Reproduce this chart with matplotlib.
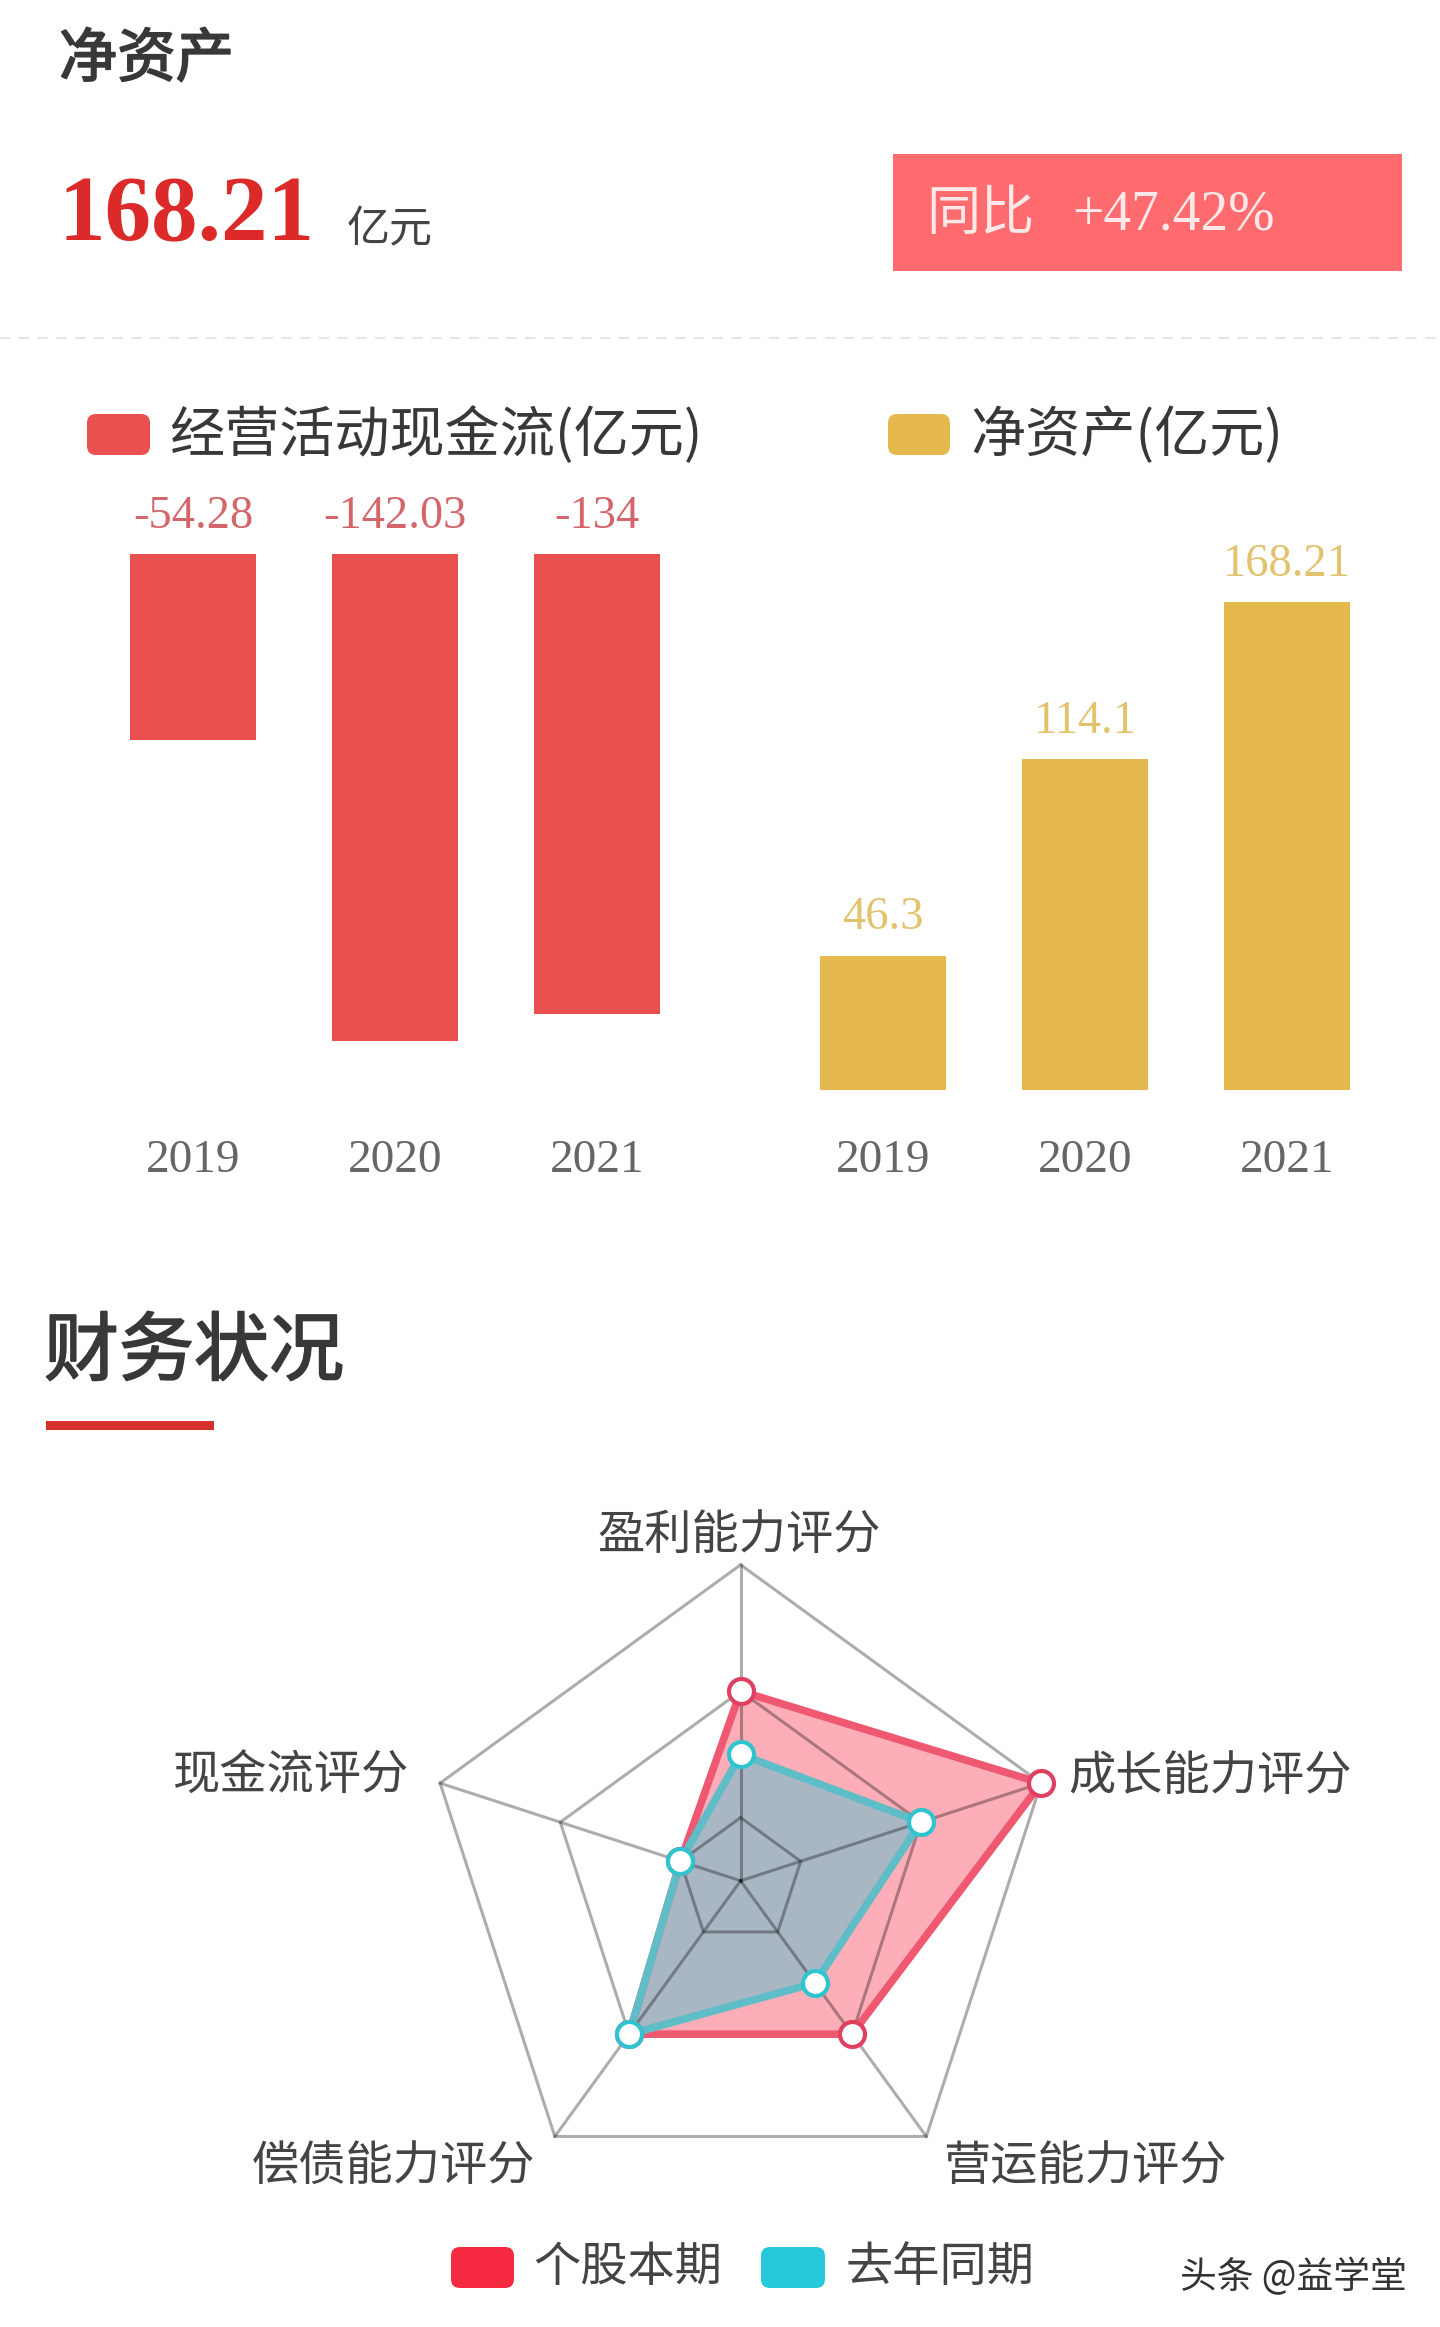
import numpy as np
import matplotlib.pyplot as plt
import matplotlib.patheffects as pe
from matplotlib.patches import FancyBboxPatch, Rectangle

plt.rcParams['font.family'] = ['Noto Sans CJK SC', 'DejaVu Sans']

W = 1440
H = 2327

years = ['2019', '2020', '2021']
cash_flow = [-54.28, -142.03, -134]
cash_labels = ['-54.28', '-142.03', '-134']
net_assets = [46.3, 114.1, 168.21]
net_labels = ['46.3', '114.1', '168.21']

radar_names = ['盈利能力评分', '成长能力评分', '营运能力评分', '偿债能力评分', '现金流评分']
radar_current = [3, 5, 3, 3, 1]
radar_last = [2, 3, 2, 3, 1]
radar_rings = [1, 3, 5]

red = '#EA5050'
gold = '#E6B94F'
dark = '#383838'
serif = 'Liberation Serif'


def add_axes_px(x0, y0, x1, y1, **kw):
	return fig.add_axes([x0/W, 1-y1/H, (x1-x0)/W, (y1-y0)/H], **kw)


def bar_axes(x0, x1, y0, y1, c0, step, ylim):
	ax = add_axes_px(x0, y0, x1, y1)
	ax.set_xlim((x0-c0)/step, (x1-c0)/step)
	ax.set_ylim(*ylim)
	for s in ax.spines.values():
		s.set_visible(False)
	ax.patch.set_alpha(0)
	ax.set_yticks([])
	ax.set_xticks(range(len(years)))
	ax.set_xticklabels(years, family=serif, fontsize=34, color='#666666')
	ax.tick_params(axis='x', length=0, pad=36)
	return ax


fig = plt.figure(figsize=(W/100, H/100), dpi=100, facecolor='white')

# page level things in pixel coordinates
page = fig.add_axes([0, 0, 1, 1])
page.set_xlim(0, W)
page.set_ylim(H, 0)
page.axis('off')

# regular weight with a thin stroke, the headings are between regular and bold
heavy = [pe.withStroke(linewidth=1.3, foreground=dark)]
page.text(59, 60, '净资产', fontsize=42, color=dark, va='center', path_effects=heavy)
page.text(59, 218, '168.21', family=serif, fontsize=67, fontweight='bold', color='#DC2A2A', va='center')
page.text(347, 230, '亿元', fontsize=31, color='#444444', va='center')
page.add_patch(Rectangle((893, 154), 509, 117, color='#FF6B6E', lw=0))
page.text(926, 214, '同比', fontsize=39, color='#FBE9E9', va='center', fontweight='light')
page.text(1072, 216, '+47.42%', family=serif, fontsize=40, color='#FBE9E9', va='center')
page.plot([0, W], [338, 338], color='#E6E6E6', lw=1.5, dashes=(5, 4))


def swatch(x0, x1, y0, y1, color):
	r = 9
	page.add_patch(FancyBboxPatch((x0+r, y0+r), x1-x0-2*r, y1-y0-2*r, boxstyle='round,pad=%d,rounding_size=%d' % (r, r), color=color, lw=0))


swatch(87, 150, 414, 455, red)
page.text(169, 436, '经营活动现金流(亿元)', fontsize=39.7, color=dark, va='center')
swatch(888, 950, 414, 455, gold)
page.text(970, 436, '净资产(亿元)', fontsize=39.7, color=dark, va='center')

page.text(44, 1353, '财务状况', fontsize=54, color=dark, va='center', path_effects=heavy)
page.add_patch(Rectangle((46, 1421), 168, 9, color='#D5302B', lw=0))

# bars
ax1 = bar_axes(100, 700, 554, 1090, 193, 202, (-536/3.43, 0))
ax1.bar(range(3), cash_flow, width=0.62, color=red)
for i in range(3):
	ax1.annotate(cash_labels[i], (i, 0), xytext=(0, 27), textcoords='offset points', ha='center', va='center',
		family=serif, fontsize=33.5, color='#D4666B', annotation_clip=False)

ax2 = bar_axes(780, 1400, 554, 1090, 883, 202, (0, 536/2.9))
ax2.bar(range(3), net_assets, width=0.62, color=gold)
for i in range(3):
	ax2.annotate(net_labels[i], (i, net_assets[i]), xytext=(0, 27), textcoords='offset points', ha='center', va='center',
		family=serif, fontsize=33.5, color='#E2C26C', annotation_clip=False)

# radar
cx = 740.6
cy = 1880.8
R = 316
rad = add_axes_px(cx-R, cy-R, cx+R, cy+R, projection='polar')
rad.set_theta_zero_location('N')
rad.set_theta_direction(-1)
rad.set_ylim(0, 5)
rad.axis('off')
rad.patch.set_alpha(0)
angles = np.arange(5)*2*np.pi/5
closed = np.append(angles, angles[0])


def close(v):
	return list(v)+[v[0]]


rad.fill(closed, close(radar_current), color='#FA2F48', alpha=0.39, lw=0, clip_on=False)
rad.fill(closed, close(radar_last), color='#56BED0', alpha=0.5, lw=0, clip_on=False)

# grid goes over the fills, see-through so it turns darker inside them
for ring in radar_rings:
	rad.plot(closed, [ring]*6, color='black', alpha=0.32, lw=2.2, clip_on=False)
for a in angles:
	rad.plot([a, a], [0, 5], color='black', alpha=0.32, lw=2.2, clip_on=False)

rad.plot(closed, close(radar_current), color='#EE5870', lw=5.5, clip_on=False)
rad.plot(closed, close(radar_last), color='#5FBDC8', lw=5.5, clip_on=False)
rad.plot(angles, radar_current, 'o', ms=18, mfc='white', mec='#E0405F', mew=3, clip_on=False, zorder=5)
rad.plot(angles, radar_last, 'o', ms=18, mfc='white', mec='#2FC4D0', mew=3, clip_on=False, zorder=6)

label_x = [739, 1210, 1085, 393, 291]
label_y = [1536, 1777, 2167, 2167, 1777]
for i in range(5):
	page.text(label_x[i], label_y[i], radar_names[i], fontsize=34, color='#444444', ha='center', va='center')

swatch(451, 514, 2247, 2288, '#F5293F')
page.text(533, 2268, '个股本期', fontsize=34, color='#444444', va='center')
swatch(761, 825, 2247, 2288, '#26C9DA')
page.text(845, 2268, '去年同期', fontsize=34, color='#444444', va='center')

page.text(1180, 2278, '头条 @益学堂', fontsize=26.5, color='#333333', va='center')

fig.savefig('out.png', dpi=100)
